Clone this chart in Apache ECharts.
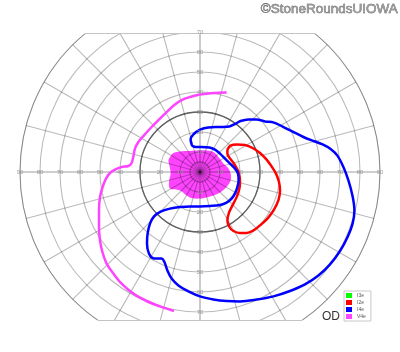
<!DOCTYPE html>
<html><head><meta charset="utf-8">
<script src="https://cdn.jsdelivr.net/npm/echarts@6/dist/echarts.min.js"></script>
<style>html,body{margin:0;padding:0;background:#fff}#c{width:400px;height:352px}</style>
</head><body><div id="c"></div>
<script>
// Isopter points in degrees: [horizontal eccentricity, vertical eccentricity]
const scotomaV4e = [[-15,7.5],[-13.3,9.5],[-10,10.3],[-5.8,10.5],[-1.7,10.8],[3.3,10.8],[6.7,10],[9.2,7.5],[11.7,4.2],[14.2,1.7],[15.5,-1.7],[15,-5],[12.5,-8.3],[9.2,-10.8],[4.2,-12.5],[0,-13.3],[-4.2,-13],[-6.7,-11.7],[-10,-9.2],[-15,-8.3],[-15.5,-5],[-14.7,-0.8],[-15.3,3.3],[-15.8,5.8]];
const isopterV4e = [[13.3,39.8],[6.7,39.5],[0,38.7],[-5,37.5],[-8.7,36.2],[-12.5,33.8],[-15.8,30.8],[-20,26.7],[-24.2,22.5],[-28,18.3],[-30.8,15],[-32.5,11.7],[-33.3,7.8],[-34.2,4.5],[-35.8,3],[-39.2,2.5],[-42.5,1.2],[-45,-0.5],[-47,-3.3],[-48.7,-7.5],[-50,-12.5],[-50.5,-19.2],[-50.5,-27.5],[-50,-34.2],[-48.8,-40],[-46.7,-45.8],[-43.3,-50.8],[-39.2,-55.8],[-33.3,-60.8],[-26.7,-64.5],[-20,-67.2],[-13,-69.5]];
const isopterI2e = [[13.7,11.2],[15.3,13.2],[18.3,13.8],[22.5,13.5],[26.3,12],[30,9.5],[33.3,6.2],[35.8,2.8],[38,-0.8],[39.5,-5],[40,-9.2],[39.3,-13.8],[37,-18.8],[33.7,-23.3],[30,-26.7],[26.7,-29.2],[23.3,-30.5],[20,-30.5],[16.7,-29.5],[14.7,-27.5],[13.7,-24.2],[14.5,-20.3],[16.7,-15.8],[18.5,-12.2],[19.7,-8.3],[20,-5],[19.7,-1.7],[18.7,1.2],[17,4.2],[15,6.8],[13.7,9.2],[13.7,11.2]];
const isopterI4e = [[-4.2,13.8],[-4.7,16.2],[-3.3,18.8],[0,21.2],[4.2,22.3],[10,22.5],[14.7,22.8],[17.5,24],[20.3,25.5],[24.2,26.3],[28.3,26.2],[32.5,25.3],[37,24.7],[41.3,22.7],[46.3,20.2],[51.7,17.5],[56.7,15.5],[61.3,13.8],[65.3,11.5],[68.7,8.2],[71.7,2.5],[74.2,-4.2],[76.2,-11.7],[77.2,-19.2],[76.3,-25.8],[73.8,-32.5],[70,-39.5],[65,-46.2],[59.2,-51.8],[52.5,-56.2],[45,-59.5],[36.7,-62.2],[28.3,-63.8],[20,-64.7],[13.3,-64.5],[6.7,-63.7],[0,-62.2],[-5.8,-59.7],[-10.8,-56.7],[-14.2,-53.3],[-16.3,-49.2],[-17.8,-45],[-19.2,-43.3],[-23,-43.2],[-25.5,-40.8],[-26.5,-35.8],[-26.2,-30.8],[-25,-25.8],[-23,-22.2],[-19.7,-19.8],[-15,-18.3],[-10,-17.5],[-5,-17.2],[0,-17.2],[5,-17],[10,-16.5],[13.3,-15.3],[15.8,-13.3],[17.5,-10.8],[18.7,-7.5],[19.3,-4.2],[19,-0.8],[17.5,1.7],[15,4.2],[12.5,6.7],[10,9.2],[7.5,11.2],[4.7,12.3],[0.8,12.5],[-2,12.5],[-3.7,13],[-4.2,13.8]];
const isopterI3e = [];
const legendNames = ['I3e','I2e','I4e','V4e'];
const legendColors = ['#00ff00','#ff0000','#0000ff','#ff44ff'];

function toPolar(pts){
  return pts.map(([x,y]) => [Math.hypot(x,y), (Math.atan2(y,x)*180/Math.PI+360)%360]);
}

const C = [200,172];
const grid = 'rgba(0,0,0,0.27)';
const hidden = {show:false};
const lbl = {show:true, fontSize:6, color:'#9a9a9a', margin:0, align:'center', verticalAlign:'middle', showMinLabel:false, fontFamily:'Liberation Sans'};

const ringColors5 = [];
for (let v=0; v<=90; v+=5) ringColors5.push(v===5 ? grid : v===30 ? '#606060' : 'rgba(0,0,0,0)');

const chart = echarts.init(document.getElementById('c'), null, {renderer:'canvas'});
chart.setOption({
  animation:false,
  backgroundColor:'#fff',
  polar:[
    {center:C, radius:180},
    {center:C, radius:140},
    {center:C, radius:180},
    {center:C, radius:140},
    {center:C, radius:180}
  ],
  angleAxis:[
    {polarIndex:0, type:'value', min:0, max:360, interval:15, startAngle:0, clockwise:false, z:1,
      axisLine:{show:true, lineStyle:{color:grid, width:1}}, axisTick:hidden, axisLabel:hidden,
      splitLine:{show:true, lineStyle:{color:['rgba(0,0,0,0.38)',grid,grid,grid,grid,grid], width:1.1}}},
    {polarIndex:1, type:'value', min:0, max:360, startAngle:90, clockwise:false, axisLine:hidden, axisTick:hidden, axisLabel:hidden, splitLine:hidden},
    {polarIndex:2, type:'value', min:0, max:360, startAngle:180, clockwise:false, axisLine:hidden, axisTick:hidden, axisLabel:hidden, splitLine:hidden},
    {polarIndex:3, type:'value', min:0, max:360, startAngle:270, clockwise:false, axisLine:hidden, axisTick:hidden, axisLabel:hidden, splitLine:hidden},
    {polarIndex:4, type:'value', min:0, max:360, startAngle:0, clockwise:false, axisLine:hidden, axisTick:hidden, axisLabel:hidden, splitLine:hidden}
  ],
  radiusAxis:[
    {polarIndex:0, type:'value', min:0, max:90, interval:10, z:1, axisLine:hidden, axisTick:hidden, axisLabel:lbl,
      splitLine:{show:true, lineStyle:{color:grid, width:1.1}}},
    {polarIndex:1, type:'value', min:0, max:70, interval:10, z:200, axisLine:hidden, axisTick:hidden, axisLabel:lbl, splitLine:hidden},
    {polarIndex:2, type:'value', min:0, max:90, interval:10, z:1, axisLine:hidden, axisTick:hidden, axisLabel:lbl, splitLine:hidden},
    {polarIndex:3, type:'value', min:0, max:70, interval:10, z:200, axisLine:hidden, axisTick:hidden, axisLabel:lbl, splitLine:hidden},
    {polarIndex:4, type:'value', min:0, max:90, interval:5, z:1, axisLine:hidden, axisTick:hidden, axisLabel:hidden,
      splitLine:{show:true, lineStyle:{color:ringColors5, width:1.3}}}
  ],
  legend:{
    orient:'vertical', left:344, top:291, z:150,
    itemWidth:6, itemHeight:5, itemGap:2, itemStyle:{borderWidth:0},
    padding:[2,5,2,2], borderColor:'#c8c8c8', borderWidth:1, backgroundColor:'#fff',
    icon:'rect', selectedMode:false,
    textStyle:{fontSize:5, color:'#555', lineHeight:5, fontFamily:'Liberation Sans'},
    data:legendNames
  },
  graphic:[
    {type:'rect', z:100, shape:{x:0,y:0,width:400,height:33.5}, style:{fill:'#fff'}},
    {type:'rect', z:100, shape:{x:0,y:320.5,width:400,height:40}, style:{fill:'#fff'}},
    {type:'line', z:101, shape:{x1:85,y1:33.5,x2:315,y2:33.5}, style:{stroke:'#c4c4c4', lineWidth:1}},
    {type:'line', z:101, shape:{x1:98,y1:320.5,x2:302,y2:320.5}, style:{stroke:'#c4c4c4', lineWidth:1}},
    {type:'text', z:110, right:2, top:2, style:{text:'©StoneRoundsUIOWA', fontSize:13.5, fontFamily:'Liberation Sans', fill:'#9a9a9a', stroke:'#333', lineWidth:0.45}},
    {type:'text', z:110, left:322, top:311, style:{text:'OD', fontSize:12, fontFamily:'Liberation Sans', fill:'#333'}}
  ],
  series:[
    {type:'custom', coordinateSystem:'polar', polarIndex:0, z:0, silent:true,
      data:[[0,0]],
      renderItem:function(params, api){
        const pts = toPolar(scotomaV4e).map(p => api.coord(p));
        return {type:'polygon', shape:{points:pts, smooth:0.35}, style:{fill:'#ff44ff', stroke:'none'}};
      }},
    {name:'I3e', type:'line', coordinateSystem:'polar', polarIndex:0, data:toPolar(isopterI3e), color:legendColors[0], showSymbol:false},
    {name:'I2e', type:'line', coordinateSystem:'polar', polarIndex:0, data:toPolar(isopterI2e), color:legendColors[1], smooth:0.35, showSymbol:false, lineStyle:{width:2.5}},
    {name:'I4e', type:'line', coordinateSystem:'polar', polarIndex:0, data:toPolar(isopterI4e), color:legendColors[2], smooth:0.35, showSymbol:false, lineStyle:{width:2.5}},
    {name:'V4e', type:'line', coordinateSystem:'polar', polarIndex:0, data:toPolar(isopterV4e), color:legendColors[3], smooth:0.35, showSymbol:false, lineStyle:{width:2.5}}
  ]
});
</script></body></html>
